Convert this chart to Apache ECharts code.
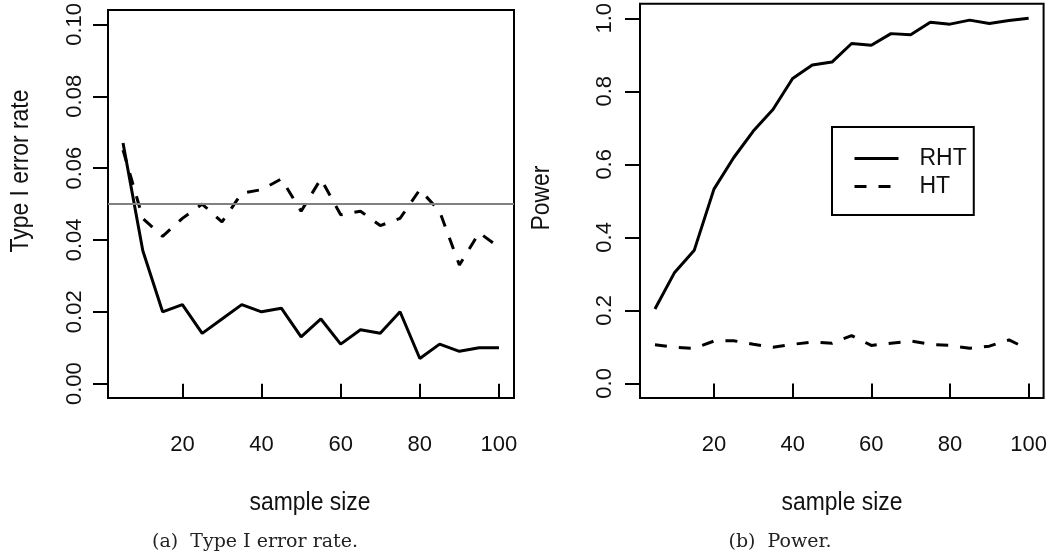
<!DOCTYPE html>
<html>
<head>
<meta charset="utf-8">
<script src="https://cdn.jsdelivr.net/npm/echarts@6/dist/echarts.min.js"></script>
<style>
  html, body { margin: 0; padding: 0; background: #fff; }
  #chart { width: 1050px; height: 553px; }
</style>
</head>
<body>
<div id="chart"></div>
<script>
// ---- data ----
const sampleSizes = [5, 10, 15, 20, 25, 30, 35, 40, 45, 50, 55, 60, 65, 70, 75, 80, 85, 90, 95, 100];
const typeIErrorRHT = [0.067, 0.037, 0.020, 0.022, 0.014, 0.018, 0.022, 0.020, 0.021, 0.013, 0.018, 0.011, 0.015, 0.014, 0.020, 0.007, 0.011, 0.009, 0.010, 0.010];
const typeIErrorHT = [0.065, 0.046, 0.041, 0.046, 0.050, 0.045, 0.053, 0.054, 0.057, 0.048, 0.057, 0.047, 0.048, 0.044, 0.046, 0.054, 0.048, 0.033, 0.042, 0.038];
const powerRHT = [0.204, 0.304, 0.365, 0.532, 0.618, 0.691, 0.750, 0.835, 0.872, 0.880, 0.931, 0.926, 0.958, 0.955, 0.989, 0.984, 0.995, 0.986, 0.994, 1.000];
const powerHT = [0.106, 0.099, 0.096, 0.116, 0.117, 0.107, 0.099, 0.107, 0.113, 0.110, 0.131, 0.104, 0.110, 0.116, 0.107, 0.104, 0.096, 0.102, 0.119, 0.093];
const nominalLevel = 0.05;
const xTicks = [20, 40, 60, 80, 100];
const errorTicks = [0, 0.02, 0.04, 0.06, 0.08, 0.10];
const powerTicks = [0, 0.2, 0.4, 0.6, 0.8, 1.0];
const seriesNames = ['RHT', 'HT'];

const pair = arr => sampleSizes.map((x, i) => [x, arr[i]]);
const SANS = "'Liberation Sans', Arial, sans-serif";
const SERIF = "'DejaVu Serif', 'Liberation Serif', serif";
const TICK_FS = 22;
const TITLE_FS = 26;
const NARROW = 0.88;

const chart = echarts.init(document.getElementById('chart'), null, { renderer: 'canvas' });

function xAxisDef(gridIndex) {
  return {
    type: 'value', gridIndex, min: 1.2, max: 103.8,
    axisLine: { show: false },
    splitLine: { show: false },
    axisTick: { show: true, inside: false, length: 15, customValues: xTicks, lineStyle: { color: '#000', width: 2 } },
    axisLabel: { customValues: xTicks, margin: 36, color: '#111', fontFamily: SANS, fontSize: TICK_FS }
  };
}
function yAxisDef(gridIndex, min, max, ticks, digits, margin) {
  return {
    type: 'value', gridIndex, min, max,
    axisLine: { show: false },
    splitLine: { show: false },
    axisTick: { show: true, inside: false, length: 15, customValues: ticks, lineStyle: { color: '#000', width: 2 } },
    axisLabel: { customValues: ticks, rotate: 90, margin, color: '#111', fontFamily: SANS, fontSize: TICK_FS,
      formatter: v => v.toFixed(digits) }
  };
}

const solid = { color: '#000', width: 3, type: 'solid' };
const dashed = { color: '#000', width: 3, type: [12, 12] };

function titleText(text, x, y, rotated) {
  return { type: 'text', x, y, rotation: rotated ? Math.PI / 2 : 0, scaleX: NARROW,
    style: { text, textAlign: 'center', textVerticalAlign: 'middle', fill: '#111', font: TITLE_FS + 'px ' + SANS } };
}

const option = {
  backgroundColor: '#fff',
  animation: false,
  grid: [
    { left: 108, top: 10, width: 406, height: 388, show: true, borderColor: '#000', borderWidth: 2, backgroundColor: 'transparent' },
    { left: 640, top: 2, width: 405, height: 396, show: true, borderColor: '#000', borderWidth: 2, backgroundColor: 'transparent' }
  ],
  xAxis: [xAxisDef(0), xAxisDef(1)],
  yAxis: [
    yAxisDef(0, -0.004, 0.104, errorTicks, 2, 22),
    yAxisDef(1, -0.04, 1.04, powerTicks, 1, 24)
  ],
  legend: {
    data: seriesNames,
    orient: 'vertical',
    left: 832, top: 127,
    itemWidth: 44, itemHeight: 14, itemGap: 5,
    padding: [20, 7, 17, 21],
    borderColor: '#000', borderWidth: 2, backgroundColor: '#fff',
    itemStyle: { color: 'transparent', borderWidth: 0, opacity: 0 },
    lineStyle: { width: 3 },
    textStyle: { fontFamily: SANS, fontSize: 23, color: '#111', padding: [0, 0, 0, 16] },
    selectedMode: false
  },
  series: [
    { name: seriesNames[0], type: 'line', xAxisIndex: 0, yAxisIndex: 0, data: pair(typeIErrorRHT), showSymbol: false, symbol: 'none', lineStyle: solid, itemStyle: { color: '#000' },
      markLine: { silent: true, symbol: 'none', label: { show: false }, lineStyle: { color: '#808080', width: 2, type: 'solid' }, data: [{ yAxis: nominalLevel }] } },
    { name: seriesNames[1], type: 'line', xAxisIndex: 0, yAxisIndex: 0, data: pair(typeIErrorHT), showSymbol: false, symbol: 'none', lineStyle: dashed, itemStyle: { color: '#000' } },
    { name: seriesNames[0], type: 'line', xAxisIndex: 1, yAxisIndex: 1, data: pair(powerRHT), showSymbol: false, symbol: 'none', lineStyle: solid, itemStyle: { color: '#000' } },
    { name: seriesNames[1], type: 'line', xAxisIndex: 1, yAxisIndex: 1, data: pair(powerHT), showSymbol: false, symbol: 'none', lineStyle: dashed, itemStyle: { color: '#000' } }
  ],
  graphic: [
    titleText('Type I error rate', 21, 171, true),
    titleText('Power', 542, 198, true),
    titleText('sample size', 310, 503, false),
    titleText('sample size', 842, 503, false),
    { type: 'text', x: 255, y: 542, style: { text: '(a)  Type I error rate.', textAlign: 'center', textVerticalAlign: 'middle', fill: '#222', font: '19px ' + SERIF } },
    { type: 'text', x: 780, y: 542, style: { text: '(b)  Power.', textAlign: 'center', textVerticalAlign: 'middle', fill: '#222', font: '19px ' + SERIF } }
  ]
};
chart.setOption(option);
</script>
</body>
</html>
